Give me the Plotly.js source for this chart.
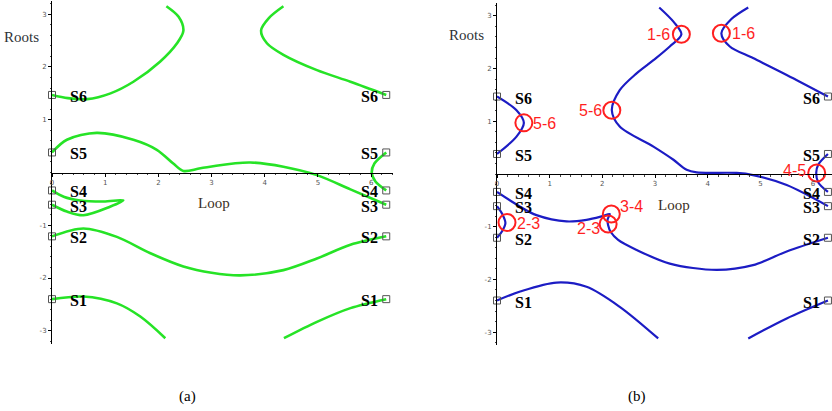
<!DOCTYPE html>
<html><head><meta charset="utf-8">
<script src="https://cdn.plot.ly/plotly-3.0.1.min.js"></script>
<style>html,body{margin:0;padding:0;background:#fff}#chart{width:832px;height:411px}</style>
</head><body><div id="chart"></div>
<script>
// ---- data ----
const loopEnds = [0, 6.283];
const rootNames = ['S1','S2','S3','S4','S5','S6'];
const rootValues = [-2.40, -1.21, -0.61, -0.34, 0.38, 1.47];
const xTickVals = [0,1,2,3,4,5,6];
const yTickVals = [-3,-2,-1,1,2,3];

// panel (a) branches
const a_s6L_x = [0, 0.3, 0.66, 1.1, 1.53, 2.03, 2.35, 2.47, 2.38, 2.15];
const a_s6L_y = [1.47, 1.41, 1.39, 1.50, 1.72, 2.10, 2.45, 2.69, 2.95, 3.15];
const a_s6R_x = [4.35, 4.08, 3.93, 4.04, 4.35, 4.98, 5.61, 6.283];
const a_s6R_y = [3.15, 2.93, 2.69, 2.45, 2.23, 1.94, 1.72, 1.47];
const a_s5_x = [0, 0.28, 0.84, 1.53, 1.97, 2.28, 2.47, 2.79, 3.41, 3.73, 4.35, 4.98, 5.61, 6.283];
const a_s5_y = [0.38, 0.62, 0.75, 0.62, 0.43, 0.17, 0.03, 0.08, 0.17, 0.19, 0.11, -0.05, -0.32, -0.61];
const a_s45_x = [6.283, 6.06, 6.01, 6.08, 6.283];
const a_s45_y = [0.38, 0.17, 0.0, -0.17, -0.34];
const a_s34_x = [0, 0.22, 0.53, 0.97, 1.34, 1.09, 0.59, 0.28, 0];
const a_s34_y = [-0.34, -0.46, -0.53, -0.55, -0.53, -0.65, -0.81, -0.74, -0.61];
const a_s2_x = [0, 0.59, 1.22, 1.85, 2.47, 3.0, 3.54, 4.35, 4.98, 5.61, 6.283];
const a_s2_y = [-1.21, -1.06, -1.22, -1.53, -1.78, -1.90, -1.95, -1.85, -1.63, -1.37, -1.21];
const a_s1L_x = [0, 0.59, 1.22, 1.66, 2.13];
const a_s1L_y = [-2.40, -2.35, -2.48, -2.73, -3.14];
const a_s1R_x = [4.36, 4.98, 5.61, 6.283];
const a_s1R_y = [-3.14, -2.83, -2.57, -2.40];

// panel (b) branches
const b_s56_x = [0, 0.37, 0.51, 0.37, 0];
const b_s56_y = [1.47, 1.21, 0.97, 0.71, 0.38];
const b_mid_x = [3.08, 3.35, 3.50, 3.28, 2.97, 2.65, 2.33, 2.18, 2.33, 2.97, 3.35, 3.60, 3.79, 4.55, 4.86, 5.50, 6.283];
const b_mid_y = [3.16, 2.89, 2.65, 2.42, 2.16, 1.91, 1.59, 1.21, 0.90, 0.52, 0.27, 0.08, 0.03, 0.02, -0.02, -0.21, -0.61];
const b_s6R_x = [4.77, 4.45, 4.26, 4.42, 4.86, 5.50, 6.283];
const b_s6R_y = [3.16, 2.94, 2.67, 2.42, 2.20, 1.88, 1.47];
const b_s45_x = [6.283, 6.10, 6.06, 6.10, 6.283];
const b_s45_y = [0.38, 0.18, 0.02, -0.16, -0.34];
const b_s23_x = [0, 0.10, 0.16, 0.10, 0];
const b_s23_y = [-0.61, -0.76, -0.93, -1.08, -1.21];
const b_s4_x = [0, 0.44, 0.75, 1.32, 1.70, 2.0, 2.14, 2.10, 2.11, 2.16, 2.30, 2.65, 3.28, 4.17, 4.86, 5.50, 6.283];
const b_s4_y = [-0.34, -0.62, -0.78, -0.90, -0.87, -0.80, -0.76, -0.86, -0.97, -1.10, -1.25, -1.44, -1.70, -1.82, -1.73, -1.47, -1.21];
const b_s1L_x = [0, 0.44, 1.13, 1.70, 2.33, 3.06];
const b_s1L_y = [-2.40, -2.23, -2.06, -2.14, -2.52, -3.12];
const b_s1R_x = [4.77, 5.50, 6.283];
const b_s1R_y = [-3.12, -2.74, -2.40];

// collisions marked in (b)
const coll_x = [3.50, 4.26, 0.51, 2.18, 6.07, 2.17, 0.19, 2.11];
const coll_y = [2.65, 2.67, 0.97, 1.21, 0.02, -0.76, -0.92, -0.95];
const coll_labels = ['1-6','1-6','5-6','5-6','4-5','3-4','2-3','2-3'];

// ---- styles ----
const GREEN = '#26e326', BLUE = '#1c1cc4', RED = '#ff1f1f';
const labelPlace = [
  {xanchor:'right', xshift:-9, yshift:0},
  {xanchor:'left', xshift:9, yshift:0},
  {xanchor:'left', xshift:7, yshift:-1},
  {xanchor:'right', xshift:-8, yshift:0},
  {xanchor:'right', xshift:-9, yshift:2},
  {xanchor:'left', xshift:7, yshift:8},
  {xanchor:'left', xshift:8, yshift:-1},
  {xanchor:'right', xshift:-6, yshift:-4}
];

const traces = [];
function curve(x, y, color, w, xa, ya){
  traces.push({x:x, y:y, mode:'lines', type:'scatter', xaxis:xa, yaxis:ya,
    line:{color:color, width:w, shape:'spline', smoothing:0.9}, hoverinfo:'skip', showlegend:false});
}
[[a_s6L_x,a_s6L_y],[a_s6R_x,a_s6R_y],[a_s5_x,a_s5_y],[a_s45_x,a_s45_y],[a_s34_x,a_s34_y],
 [a_s2_x,a_s2_y],[a_s1L_x,a_s1L_y],[a_s1R_x,a_s1R_y]].forEach(c=>curve(c[0],c[1],GREEN,2.6,'x','y'));
[[b_s56_x,b_s56_y],[b_mid_x,b_mid_y],[b_s6R_x,b_s6R_y],[b_s45_x,b_s45_y],[b_s23_x,b_s23_y],
 [b_s4_x,b_s4_y],[b_s1L_x,b_s1L_y],[b_s1R_x,b_s1R_y]].forEach(c=>curve(c[0],c[1],BLUE,2.2,'x2','y2'));

// endpoint squares
[['x','y'],['x2','y2']].forEach(ax=>{
  const sx=[], sy=[];
  loopEnds.forEach(l=>rootValues.forEach(r=>{sx.push(l); sy.push(r);}));
  traces.push({x:sx, y:sy, mode:'markers', type:'scatter', xaxis:ax[0], yaxis:ax[1], cliponaxis:false,
    marker:{symbol:'square-open', size:7, color:'#555', line:{width:1, color:'#555'}}, hoverinfo:'skip', showlegend:false});
});
// collision circles
traces.push({x:coll_x, y:coll_y, mode:'markers', type:'scatter', xaxis:'x2', yaxis:'y2', cliponaxis:false,
  marker:{symbol:'circle-open', size:17, color:RED, line:{width:2, color:RED}}, hoverinfo:'skip', showlegend:false});

const annotations = [];
// S labels
[['x','y'],['x2','y2']].forEach(ax=>{
  [0.30, 5.78].forEach(lx=>{
    rootNames.forEach((n,i)=>annotations.push({x:lx, y:rootValues[i], xref:ax[0], yref:ax[1], text:n,
      showarrow:false, xanchor:'left', yanchor:'middle', yshift:-1.5,
      font:{family:'Liberation Serif, Times New Roman, serif', size:16, color:'#000', weight:'bold'}}));
  });
});
coll_labels.forEach((t,i)=>annotations.push(Object.assign({x:coll_x[i], y:coll_y[i], xref:'x2', yref:'y2', text:t,
  showarrow:false, yanchor:'middle', font:{family:'Liberation Sans, Arial, sans-serif', size:16, color:RED}}, labelPlace[i])));
// axis names and panel captions (paper coords)
const W=832, H=411;
function paperText(t, px, py, size, color){
  annotations.push({x:px/W, y:1-py/H, xref:'paper', yref:'paper', text:t, showarrow:false,
    xanchor:'center', yanchor:'middle', font:{family:'Liberation Serif, Times New Roman, serif', size:size, color:color}});
}
paperText('Roots', 21, 37, 15, '#2f3336');
paperText('Roots', 466, 35, 15, '#2f3336');
paperText('Loop', 214, 203, 15, '#3b3024');
paperText('Loop', 674, 205, 15, '#3b3024');
paperText('(a)', 187, 396, 15, '#000');
paperText('(b)', 637, 396, 15, '#000');

function xax(domain, pos, maxX){
  return {domain:domain, anchor:'free', position:pos, range:[0,maxX], showgrid:false, zeroline:false,
    showline:true, linecolor:'#000', linewidth:1, ticks:'outside', ticklen:3, tickcolor:'#000',
    tickvals:xTickVals, ticktext:xTickVals.map(String),
    tickfont:{family:'DejaVu Sans, sans-serif', size:7, color:'#555'},
    minor:{dtick:0.2, ticks:'outside', ticklen:1.5, tickcolor:'#444'}};
}
function yax(domain, anchor){
  return {domain:domain, anchor:anchor, range:[-3.25,3.25], showgrid:false, zeroline:false,
    showline:true, linecolor:'#000', linewidth:1, ticks:'outside', ticklen:3, tickcolor:'#000',
    tickvals:yTickVals, ticktext:yTickVals.map(String),
    tickfont:{family:'DejaVu Sans, sans-serif', size:7, color:'#555'},
    minor:{dtick:0.2, ticks:'outside', ticklen:1.5, tickcolor:'#444'}};
}
const layout = {
  width:W, height:H, margin:{l:0,r:0,t:0,b:0}, paper_bgcolor:'#fff', plot_bgcolor:'rgba(0,0,0,0)',
  showlegend:false,
  xaxis: xax([52/W, 393/W], 1-172.5/H, 6.41),
  yaxis: yax([1-344/H, 1-1/H], 'x'),
  xaxis2: xax([497/W, 1], 1-174/H, 6.36),
  yaxis2: yax([1-345.3/H, 1-2.7/H], 'x2'),
  annotations: annotations
};
Plotly.newPlot('chart', traces, layout, {staticPlot:true, displayModeBar:false});
</script></body></html>
